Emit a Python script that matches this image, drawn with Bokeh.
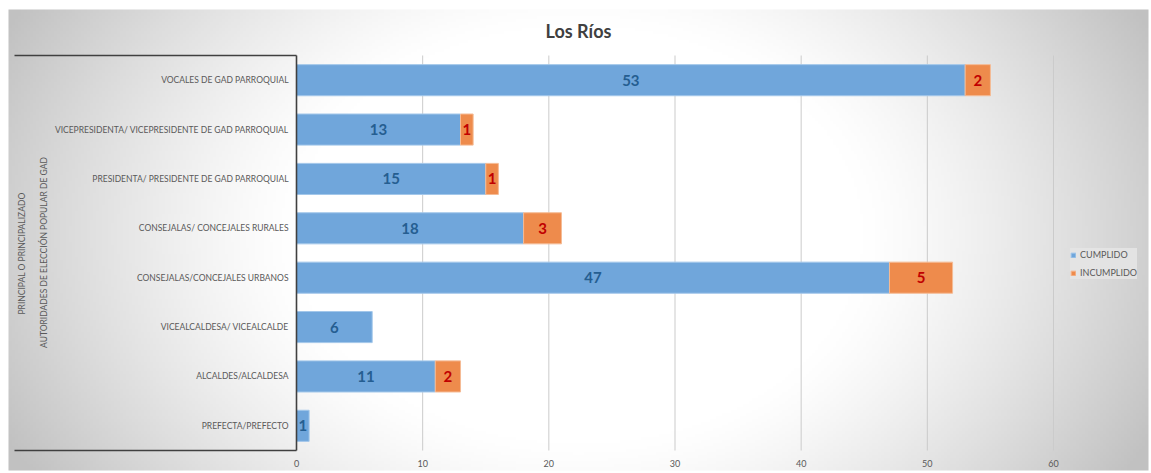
import numpy as np
from bokeh.plotting import figure
from bokeh.models import ColumnDataSource, Range1d, Legend, LegendItem
from bokeh.core.properties import value
from bokeh.embed import file_html
from bokeh.resources import INLINE

# ---------------- data ----------------
title_text = "Los Ríos"
categories = [
    "PREFECTA/PREFECTO",
    "ALCALDES/ALCALDESA",
    "VICEALCALDESA/ VICEALCALDE",
    "CONSEJALAS/CONCEJALES URBANOS",
    "CONSEJALAS/ CONCEJALES RURALES",
    "PRESIDENTA/ PRESIDENTE DE GAD PARROQUIAL",
    "VICEPRESIDENTA/ VICEPRESIDENTE DE GAD PARROQUIAL",
    "VOCALES DE GAD PARROQUIAL",
]
cumplido = [1, 11, 6, 47, 18, 15, 13, 53]
incumplido = [0, 2, 0, 5, 3, 1, 1, 2]
series_names = ["CUMPLIDO", "INCUMPLIDO"]
group_labels = ["PRINCIPAL O PRINCIPALIZADO", "AUTORIDADES DE ELECCIÓN POPULAR DE GAD"]
x_ticks = [0, 10, 20, 30, 40, 50, 60]

# ---------------- layout (canvas pixels) ----------------
W, H = 1151, 473
CX0, CY0, CX1, CY1 = 8, 9, 1148, 470   # chart area (gradient panel)
PLOT_L = 296            # pixel of x = 0
PX_PER_UNIT = 757 / 60  # pixels per value unit
BOTTOM_PX = 450         # pixel (from top) of the category block bottom
ROW_PX = 49.375         # pixels per category row

x_start = -PLOT_L / PX_PER_UNIT
x_end = (W - PLOT_L) / PX_PER_UNIT
y_start = -(H - BOTTOM_PX) / ROW_PX
y_end = BOTTOM_PX / ROW_PX


def xd(px):
    return x_start + px / PX_PER_UNIT


def yd(py):
    return y_end - py / ROW_PX


FONT_NAME = "Lato"
FONT = value(FONT_NAME)
BLUE = "#70a6db"
ORANGE = "#ee8b4c"
TXT = "#595959"

p = figure(width=W, height=H, x_range=Range1d(x_start, x_end),
           y_range=Range1d(y_start, y_end), output_backend="svg",
           toolbar_location=None, x_axis_location=None, y_axis_location=None,
           min_border=0)
p.grid.visible = False
p.outline_line_color = None
p.background_fill_color = "white"
p.border_fill_color = "white"

# background radial gradient (styling) for the chart panel
cw, ch = CX1 - CX0, CY1 - CY0
nx, ny = 380, 154
gx = (np.arange(nx) + 0.5) * cw / nx
gy = (np.arange(ny) + 0.5) * ch / ny
GX, GY = np.meshgrid(gx, gy)
u = (GX - cw / 2) / (cw / 2)
v = (GY - 225) / 420
d = np.sqrt(u ** 2 + v ** 2)
s = np.clip((d - 0.5) / 0.62, 0, 1) ** 1.25
g = (255 - 62 * s).astype(np.uint8)[::-1]
img = np.empty((ny, nx), dtype=np.uint32)
view = img.view(dtype=np.uint8).reshape((ny, nx, 4))
view[:, :, 0] = g
view[:, :, 1] = g
view[:, :, 2] = g
view[:, :, 3] = 255
p.image_rgba(image=[img], x=xd(CX0), y=yd(CY1), dw=cw / PX_PER_UNIT,
             dh=ch / ROW_PX, level="image")

n = len(categories)
ys = [i + 0.5 for i in range(n)]

# gridlines
p.segment(x0=x_ticks[1:], y0=0, x1=x_ticks[1:], y1=n, line_color="#cbcbcb",
          line_width=1)

# bars
blue_src = ColumnDataSource(dict(y=ys, right=cumplido,
                                 lab=[str(c) for c in cumplido],
                                 xm=[c / 2 for c in cumplido]))
blue = p.hbar(y="y", left=0, right="right", height=0.63, source=blue_src,
              fill_color=BLUE, line_color="#a3c7ea", line_width=1)

oy, ol, orr, olab, oxm = [], [], [], [], []
for i in range(n):
    if incumplido[i] > 0:
        oy.append(ys[i])
        ol.append(cumplido[i])
        orr.append(cumplido[i] + incumplido[i])
        olab.append(str(incumplido[i]))
        oxm.append(cumplido[i] + incumplido[i] / 2)
or_src = ColumnDataSource(dict(y=oy, left=ol, right=orr, lab=olab, xm=oxm))
orange = p.hbar(y="y", left="left", right="right", height=0.63, source=or_src,
                fill_color=ORANGE, line_color="#f5bb95", line_width=1)

# data labels
p.text(x="xm", y="y", text="lab", source=blue_src, text_align="center",
       text_baseline="middle", text_font=FONT, text_font_style="bold",
       text_font_size="15px", text_color="#255e91")
p.text(x="xm", y="y", text="lab", source=or_src, text_align="center",
       text_baseline="middle", text_font=FONT, text_font_style="bold",
       text_font_size="15px", text_color="#c00000")

# category axis box
p.segment(x0=[xd(14), xd(14), 0], y0=[n, 0, 0], x1=[0, 0, 0], y1=[n, 0, n],
          line_color="#404040", line_width=1.6)

# category labels
p.text(x=0, y=ys, text=categories, x_offset=-8, text_align="right",
       text_baseline="middle", text_font=FONT, text_font_size="8.5px",
       text_color=TXT)

# group labels (rotated)
p.text(x=[xd(21), xd(43)], y=[yd(253), yd(252)], text=group_labels,
       angle=np.pi / 2, text_align="center", text_baseline="middle",
       text_font=FONT, text_font_size="8.5px", text_color=TXT)

# x tick labels
p.text(x=x_ticks, y=0, text=[str(t) for t in x_ticks], y_offset=13,
       text_align="center", text_baseline="middle", text_font=FONT,
       text_font_size="9px", text_color=TXT)

# title
p.text(x=[xd((CX0 + CX1) / 2)], y=[yd(30)], text=[title_text],
       text_align="center", text_baseline="middle", text_font=FONT,
       text_font_style="bold", text_font_size="18px", text_color="#404040")

legend = Legend(items=[LegendItem(label=series_names[0], renderers=[blue]),
                       LegendItem(label=series_names[1], renderers=[orange])],
                location=(1070, H - 279), glyph_width=6, glyph_height=6,
                label_text_font=FONT_NAME, label_text_font_size="9px",
                label_text_color=TXT, label_height=13, spacing=5, padding=5,
                margin=0, label_standoff=4, background_fill_color="#e4e4e4",
                background_fill_alpha=0.9, border_line_color=None)
p.add_layout(legend)

open("out.html", "w").write(file_html(p, INLINE))
